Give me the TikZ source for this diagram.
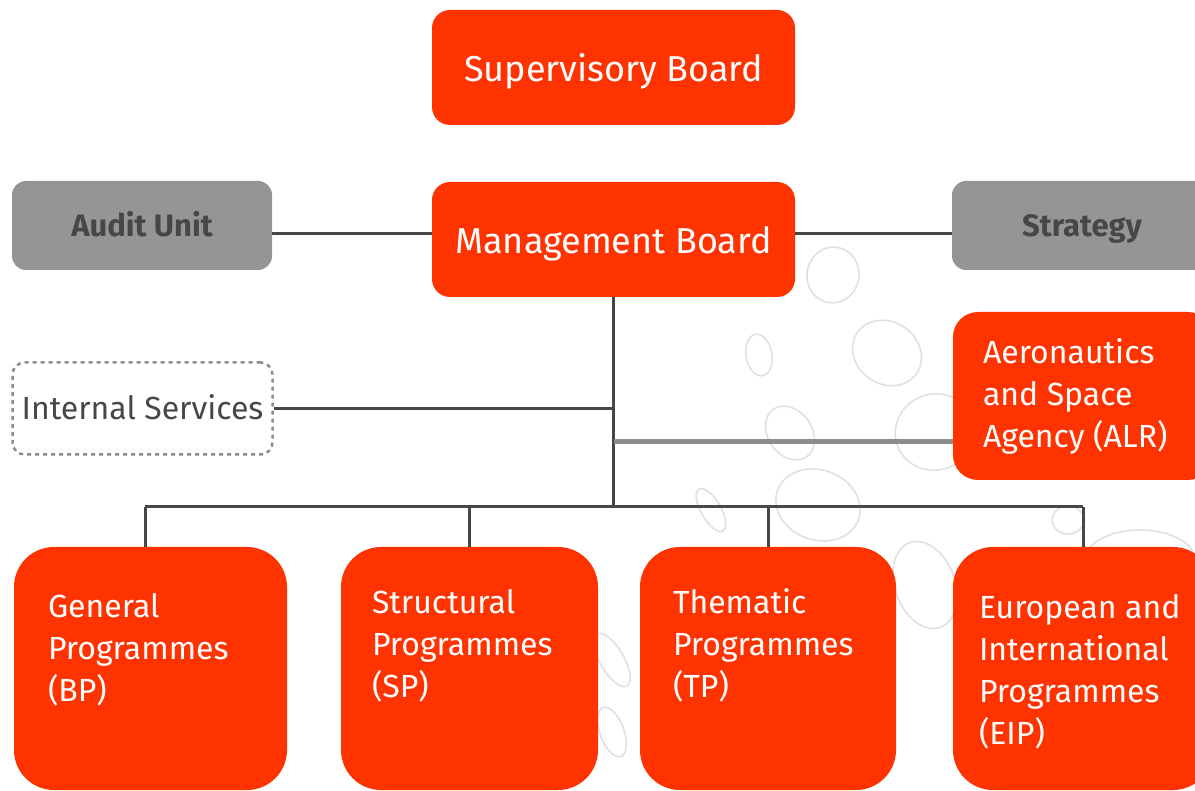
\documentclass[tikz,border=0pt]{standalone}
\usepackage{fontspec}
\setmainfont{Fira Sans}
\usetikzlibrary{positioning}
\definecolor{boxred}{HTML}{FF3300}
\definecolor{boxgrey}{HTML}{959595}
\definecolor{linegrey}{HTML}{474747}
\definecolor{busgrey}{HTML}{8C8C8C}
\definecolor{bubblegrey}{HTML}{E0E0E0}

\begin{document}
\begin{tikzpicture}
[x=1pt,y=-1pt,
redbox/.style={fill=boxred,draw=none,rounded corners=18pt,inner sep=0pt,text=white,text height=28pt,text depth=0pt,font=\fontsize{36}{40}\selectfont},
bigbox/.style={fill=boxred,draw=none,rounded corners=40pt,inner sep=0pt,minimum height=243pt},
greybox/.style={fill=boxgrey,draw=none,rounded corners=14pt,inner sep=0pt,minimum width=260pt,minimum height=89pt,text=linegrey,text height=23pt,text depth=0pt,font=\fontsize{31}{36}\selectfont\bfseries},
dashbox/.style={draw=busgrey,line width=2.5pt,dash pattern=on 4pt off 4pt,rounded corners=12pt,inner sep=0pt,text=linegrey,text height=23pt,text depth=0pt,font=\fontsize{32}{36}\selectfont},
whitetext/.style={text=white,align=left,inner sep=0pt,anchor=north west,font=\fontsize{32}{42}\selectfont},
blackline/.style={linegrey,line width=3pt},
greyline/.style={busgrey,line width=5pt},
bubble/.style={bubblegrey,line width=1.6pt}]

\useasboundingbox (0,0) rectangle (1195,791);
\begin{scope}
\clip (0,0) rectangle (1195,791);

% background bubbles
\draw[bubble] (833,275) ellipse [x radius=26, y radius=28, rotate=-10];
\draw[bubble] (759,355) ellipse [x radius=13, y radius=21, rotate=10];
\draw[bubble] (887,353) ellipse [x radius=36, y radius=31, rotate=-35];
\draw[bubble] (790,433) ellipse [x radius=22, y radius=29, rotate=35];
\draw[bubble] (935,432) ellipse [x radius=40, y radius=38, rotate=20];
\draw[bubble] (711,510) ellipse [x radius=10, y radius=24, rotate=30];
\draw[bubble] (818,505) ellipse [x radius=43, y radius=35, rotate=-20];
\draw[bubble] (1068,520) ellipse [x radius=16, y radius=14];
\draw[bubble] (1140,560) ellipse [x radius=55, y radius=30];
\draw[bubble] (925,585) ellipse [x radius=30, y radius=45, rotate=20];
\draw[bubble] (612,660) ellipse [x radius=12, y radius=30, rotate=30];
\draw[bubble] (612,732) ellipse [x radius=12, y radius=26, rotate=20];

% top boxes
\node[redbox,minimum width=363pt,minimum height=115pt] (sb) at (613.5,67.5) {Supervisory Board};
\node[redbox,minimum width=363pt,minimum height=115pt] (mb) at (613.5,239.5) {Management Board};
\node[greybox] (au) at (142,225.5) {Audit Unit};
\node[greybox] (st) at (1082,225.5) {Strategy};
\node[dashbox,minimum width=260pt,minimum height=92pt] (is) at (142.5,408.5) {Internal Services};

% ALR
\node[fill=boxred,draw=none,rounded corners=25pt,inner sep=0pt,minimum width=260pt,minimum height=168pt] (alr) at (1083,396) {};
\node[whitetext] (alrtext) at ([xshift=30pt,yshift=-27pt]alr.north west) {Aeronautics\\and Space\\Agency (ALR)};

% programme boxes
\node[bigbox,minimum width=273pt] (bp) at (150.5,668.5) {};
\node[bigbox,minimum width=257pt] (sp) at (469.5,668.5) {};
\node[bigbox,minimum width=256pt] (tp) at (768,668.5) {};
\node[bigbox,minimum width=260pt] (eip) at (1083,668.5) {};
\node[whitetext] (bptext) at ([xshift=34pt,yshift=-46pt]bp.north west) {General\\Programmes\\(BP)};
\node[whitetext] (sptext) at ([xshift=31pt,yshift=-42pt]sp.north west) {Structural\\Programmes\\(SP)};
\node[whitetext] (tptext) at ([xshift=33pt,yshift=-42pt]tp.north west) {Thematic\\Programmes\\(TP)};
\node[whitetext] (eiptext) at ([xshift=26pt,yshift=-47pt]eip.north west) {European and\\International\\Programmes\\(EIP)};

% connectors
\coordinate (bus) at (mb.south |- 0,507);
\draw[blackline] (au.east |- 0,234) -- (mb.west |- 0,234);
\draw[blackline] (mb.east |- 0,234) -- (st.west |- 0,234);
\draw[blackline] (mb.south) -- (bus);
\draw[blackline] (is.east) -- (is.east -| mb.south);
\draw[greyline] (alr.west |- 0,442) -- (mb.south |- 0,442);
\draw[blackline] (145,507) -- (bus) -- (eip.north |- bus);
\draw[blackline] (145,507) -- (145,547);
\foreach \b in {sp,tp,eip}
  \draw[blackline] (\b.north |- bus) -- (\b.north);
\end{scope}
\end{tikzpicture}
\end{document}
